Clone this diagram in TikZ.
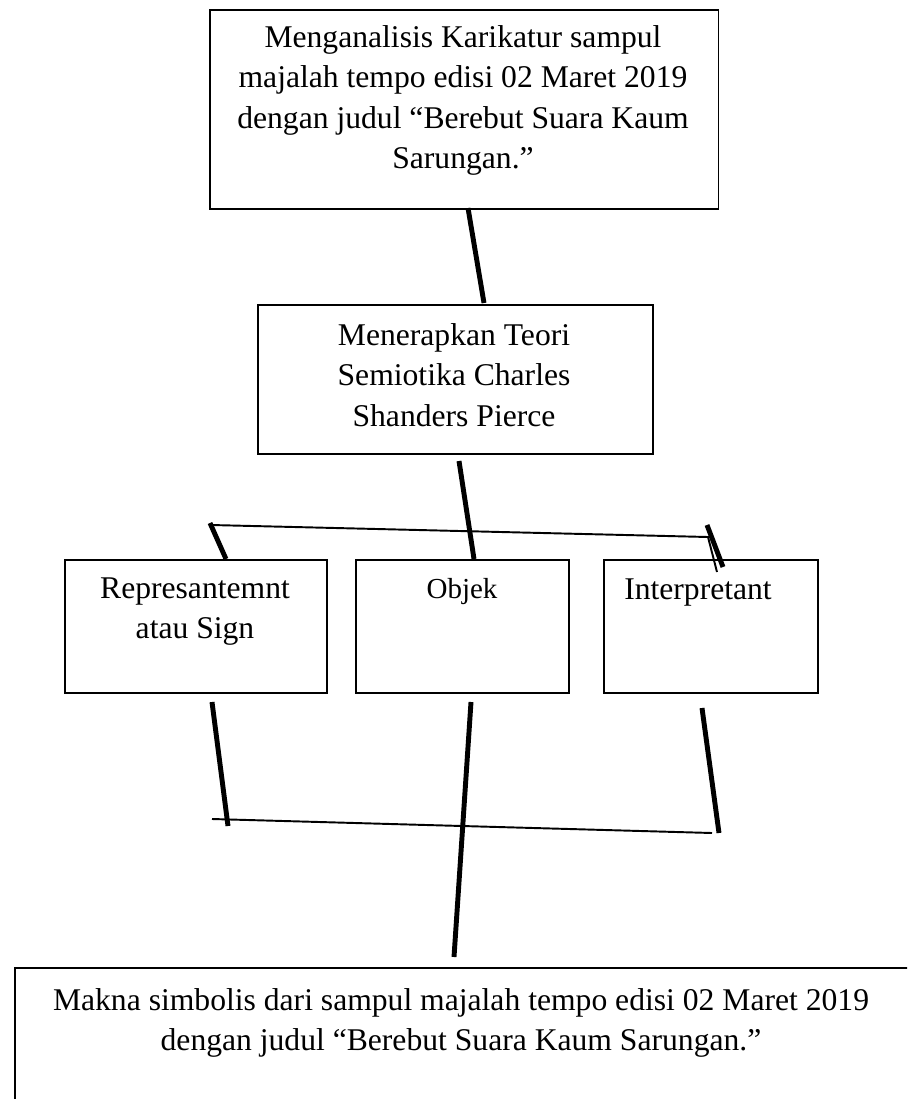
\documentclass[tikz,border=0pt]{standalone}
\usepackage{fontspec}
\setmainfont{Liberation Serif}
\usetikzlibrary{positioning}

\begin{document}
\begin{tikzpicture}[x=0.02cm, y=-0.02cm,
    kotak/.style={draw, line width=0.9pt, inner sep=0pt, anchor=north west},
    teks/.style={anchor=north, inner sep=0pt, align=center, font=\fontsize{18}{23}\selectfont},
    tebal/.style={line width=2.8pt},
    tipis/.style={line width=1.1pt}]

      \clip (0,0) rectangle (907,1099);

      % kotak
      \node[kotak, minimum width=10.18cm, minimum height=3.98cm] (analisis) at (209, 9) {};
      \node[kotak, minimum width=7.9cm, minimum height=2.98cm] (teori) at (257, 304) {};
      \node[kotak, minimum width=5.24cm, minimum height=2.66cm] (sign) at (64, 559) {};
      \node[kotak, minimum width=4.26cm, minimum height=2.66cm] (objek) at (355, 559) {};
      \node[kotak, minimum width=4.28cm, minimum height=2.66cm] (interp) at (603, 559) {};
      \node[kotak, minimum width=17.92cm, minimum height=3.4cm] (makna) at (14, 967) {};

      % teks
      \node[teks] (t-analisis) at (463, 25) {Menganalisis Karikatur sampul\\majalah tempo edisi 02 Maret 2019\\dengan judul “Berebut Suara Kaum\\Sarungan.”};
      \node[teks] (t-teori) at (454, 323) {Menerapkan Teori\\Semiotika Charles\\Shanders Pierce};
      \node[teks] (t-sign) at (195, 577) {Represantemnt\\atau Sign};
      \node[teks, font=\fontsize{16.5}{20}\selectfont] (t-objek) at (462, 578) {Objek};
      \node[teks] (t-interp) at (698, 578) {Interpretant};
      \node[teks] (t-makna) at (461, 988) {Makna simbolis dari sampul majalah tempo edisi 02 Maret 2019\\dengan judul “Berebut Suara Kaum Sarungan.”};

      % titik ujung garis
      \coordinate (a1) at (468, 208);
      \coordinate (a2) at (484, 303);
      \coordinate (b1) at (459, 461);
      \coordinate (b2) at (474, 559);
      \coordinate (c1) at (211, 525);
      \coordinate (c2) at (708, 537);
      \coordinate (c3) at (717, 572);
      \coordinate (d1) at (210, 523);
      \coordinate (d2) at (226, 559);
      \coordinate (e1) at (707, 525);
      \coordinate (e2) at (723, 567);
      \coordinate (f1) at (212, 702);
      \coordinate (f2) at (228, 826);
      \coordinate (g1) at (471, 702);
      \coordinate (g2) at (454, 957);
      \coordinate (h1) at (702, 708);
      \coordinate (h2) at (719, 833);
      \coordinate (k1) at (212, 819);
      \coordinate (k2) at (712, 833);

      % garis
      \draw[tebal] (a1) -- (a2);
      \draw[tebal] (b1) -- (b2);
      \draw[tipis] (c1) -- (c2) -- (c3);
      \draw[tebal] (d1) -- (d2);
      \draw[tebal] (e1) -- (e2);
      \draw[tebal] (f1) -- (f2);
      \draw[tebal] (g1) -- (g2);
      \draw[tebal] (h1) -- (h2);
      \draw[tipis] (k1) -- (k2);

\end{tikzpicture}
\end{document}
